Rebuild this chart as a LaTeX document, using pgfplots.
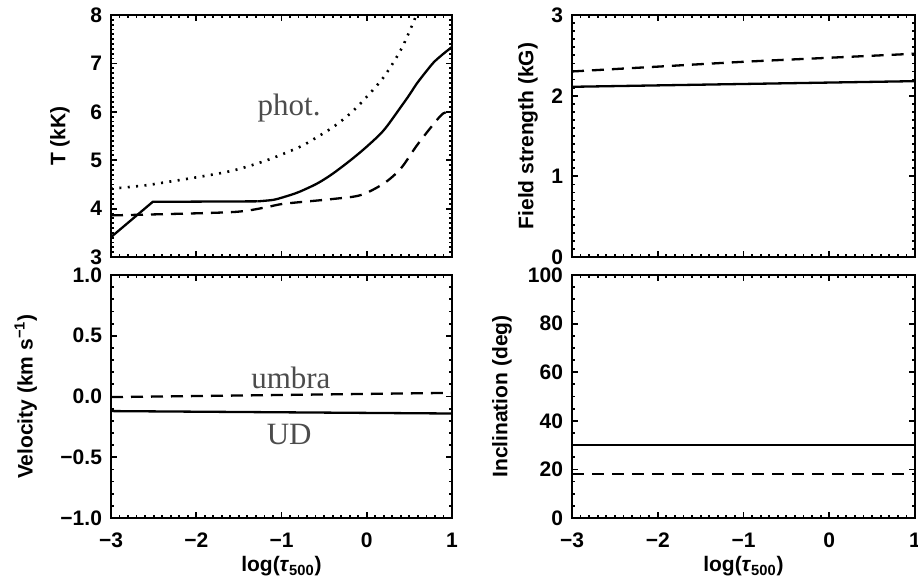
\documentclass[border=0pt]{standalone}
\usepackage{fontspec}
\setmainfont{Liberation Sans}
\newfontfamily\seriffont{Liberation Serif}
\usepackage{pgfplots}
\pgfplotsset{compat=1.18}
\begin{document}
\begin{tikzpicture}
\path[use as bounding box] (0,0) rectangle (459pt,292.5pt);
\pgfplotsset{
  every axis/.append style={
    scale only axis,
    axis line style={line width=1.1pt},
    every tick/.style={line width=0.9pt,black},
    major tick length=2.8pt,
    minor tick length=1.3pt,
    tick align=inside,
    xmin=-3, xmax=1,
    xtick={-3,-2,-1,0,1},
    minor x tick num=9,
    font=\bfseries\fontsize{10.5}{11}\selectfont,
    /pgf/number format/assume math mode=true,
    yticklabel style={xshift=-1pt},
    xticklabel style={yshift=-4pt},
    clip=true,
  },
  curve/.style={black, line width=1.15pt, no markers},
  dashcurve/.style={black, line width=1.15pt, no markers, dash pattern=on 6pt off 4pt},
  dotcurve/.style={black, line width=1.3pt, no markers, dash pattern=on 1pt off 3.2pt},
}
% Top left: temperature
\begin{axis}[
  at={(55.5pt,164pt)}, anchor=south west,
  width=170.5pt, height=121pt,
  ymin=3, ymax=8, ytick={3,4,5,6,7,8}, minor y tick num=9,
  xticklabels={},
  ylabel={T (kK)},
  ylabel style={at={(axis description cs:-0.15,0.5)},anchor=center},
]
\addplot[dotcurve, smooth] coordinates {(-3,4.41) (-2.6,4.48) (-2.34,4.55) (-1.95,4.66) (-1.56,4.79) (-1.17,5.0) (-0.78,5.28) (-0.58,5.48) (-0.39,5.69) (-0.19,5.97) (0.0,6.31) (0.2,6.72) (0.4,7.28) (0.55,7.86) (0.6,8.1)};
\addplot[curve] coordinates {(-3,3.41) (-2.51,4.14) (-1.28,4.15)};
\addplot[curve, smooth] coordinates {(-1.28,4.15) (-1.1,4.18) (-0.97,4.24) (-0.8,4.34) (-0.58,4.52) (-0.4,4.72) (-0.19,5.0) (0,5.28) (0.2,5.62) (0.4,6.1) (0.5,6.35) (0.59,6.59) (0.7,6.84) (0.79,7.03) (0.9,7.2) (1,7.34)};
\addplot[dashcurve, smooth] coordinates {(-3,3.86) (-2.5,3.88) (-1.56,3.93) (-1.2,4.02) (-0.97,4.1) (-0.39,4.2) (-0.07,4.28) (0.2,4.52) (0.4,4.83) (0.59,5.31) (0.79,5.76) (0.9,5.97) (1,6.0)};
\node[font=\seriffont\mdseries\fontsize{15.5}{16}\selectfont, text=black!70, anchor=center] at (axis cs:-0.91,6.07) {phot.};
\end{axis}
% Top right: field strength
\begin{axis}[
  at={(286pt,164pt)}, anchor=south west,
  width=171.5pt, height=121pt,
  ymin=0, ymax=3, ytick={0,1,2,3}, minor y tick num=9,
  xticklabels={},
  ylabel={Field strength (kG)},
  ylabel style={at={(axis description cs:-0.128,0.5)},anchor=center},
]
\addplot[curve] coordinates {(-3,2.11) (1,2.18)};
\addplot[dashcurve, smooth] coordinates {(-3,2.30) (-2,2.36) (-1,2.42) (0,2.47) (1,2.52)};
\end{axis}
% Bottom left: velocity
\begin{axis}[
  at={(55.5pt,33.5pt)}, anchor=south west,
  width=170.5pt, height=121.5pt,
  ymin=-1, ymax=1, ytick={-1,-0.5,0,0.5,1}, minor y tick num=4,
  yticklabels={−1.0,−0.5,0.0,0.5,1.0},
  xticklabels={−3,−2,−1,0,1},
  ylabel={Velocity (km s\textsuperscript{−1})},
  ylabel style={at={(axis description cs:-0.25,0.5)},anchor=center},
  xlabel={log(\textit{τ}\textsubscript{500})},
  xlabel style={at={(axis description cs:0.5,-0.2)},anchor=center},
]
\addplot[dashcurve] coordinates {(-3,-0.005) (1,0.03)};
\addplot[curve] coordinates {(-3,-0.12) (1,-0.14)};
\node[font=\seriffont\mdseries\fontsize{15.5}{16}\selectfont, text=black!70, anchor=center] at (axis cs:-0.89,0.15) {umbra};
\node[font=\seriffont\mdseries\fontsize{15.5}{16}\selectfont, text=black!70, anchor=center] at (axis cs:-0.91,-0.315) {UD};
\end{axis}
% Bottom right: inclination
\begin{axis}[
  at={(286pt,33.5pt)}, anchor=south west,
  width=171.5pt, height=121.5pt,
  ymin=0, ymax=100, ytick={0,20,40,60,80,100}, minor y tick num=3,
  xticklabels={−3,−2,−1,0,1},
  ylabel={Inclination (deg)},
  ylabel style={at={(axis description cs:-0.204,0.5)},anchor=center},
  xlabel={log(\textit{τ}\textsubscript{500})},
  xlabel style={at={(axis description cs:0.5,-0.2)},anchor=center},
]
\addplot[curve] coordinates {(-3,30) (1,30)};
\addplot[dashcurve] coordinates {(-3,18) (1,18)};
\end{axis}
\end{tikzpicture}
\end{document}
